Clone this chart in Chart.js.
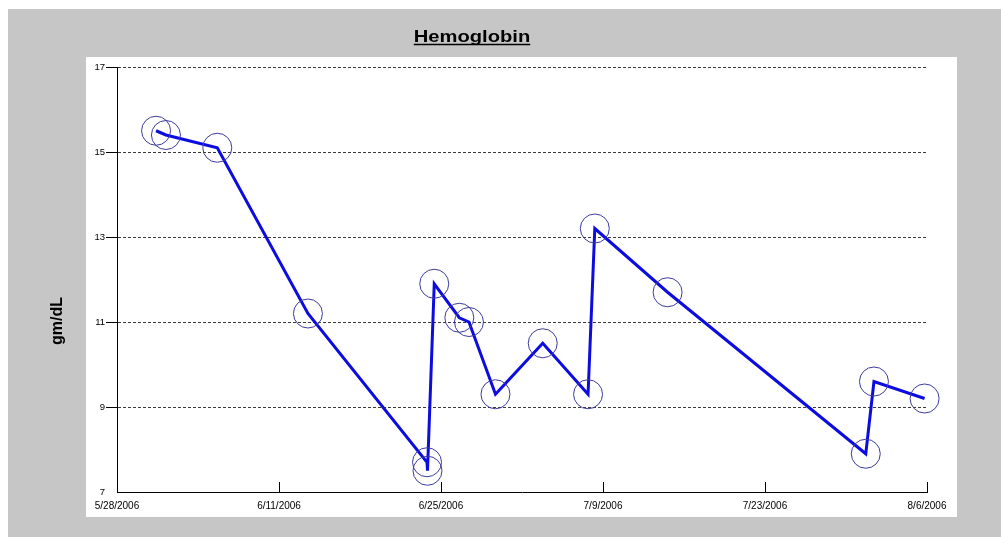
<!DOCTYPE html>
<html>
<head>
<meta charset="utf-8">
<script src="https://cdn.jsdelivr.net/npm/chart.js@4.4.0/dist/chart.umd.min.js"></script>
<style>
  html, body { margin: 0; padding: 0; background: #fff; }
</style>
</head>
<body>
<canvas id="chart" width="1001" height="537"></canvas>
<script>
const chartTitle = 'Hemoglobin';
const yAxisTitle = 'gm/dL';
const dateTicks = ['5/28/2006', '6/11/2006', '6/25/2006', '7/9/2006', '7/23/2006', '8/6/2006'];
const valueTicks = [7, 9, 11, 13, 15, 17];

// lab draws (date + hour)
const readingDates = [
    '5/31/2006 09:00', '6/1/2006 05:30', '6/5/2006 16:00', '6/13/2006 12:00',
    '6/23/2006 19:00', '6/23/2006 20:00', '6/24/2006 10:00', '6/26/2006 14:00',
    '6/27/2006 10:00', '6/29/2006 17:00', '7/3/2006 19:00', '7/7/2006 17:00',
    '7/8/2006 07:00', '7/14/2006 14:00', '7/31/2006 17:00', '8/1/2006 10:00',
    '8/5/2006 19:00',
];
const hemoglobin = [15.5, 15.4, 15.1, 11.2, 7.7, 7.5, 11.9, 11.1, 11.0, 9.3, 10.5, 9.3, 13.2, 11.7, 7.9, 9.6, 9.2];

function toTime(s) {
    const [d, t] = s.split(' ');
    const [m, day, y] = d.split('/').map(Number);
    const [hh, mm] = (t || '0:0').split(':').map(Number);
    return Date.UTC(y, m - 1, day, hh, mm);
}
const start = toTime(dateTicks[0]);
const dayOf = s => (toTime(s) - start) / 86400000;

const points = readingDates.map((d, i) => ({ x: dayOf(d), y: hemoglobin[i] }));

const backdrop = {
    id: 'backdrop',
    beforeDraw(chart) {
        const { ctx, chartArea: a } = chart;
        ctx.save();
        ctx.fillStyle = '#ffffff';
        ctx.fillRect(0, 0, chart.width, chart.height);
        ctx.fillStyle = '#c6c6c6';
        ctx.fillRect(8, 9, chart.width - 8, chart.height - 9);
        ctx.fillStyle = '#ffffff';
        ctx.fillRect(a.left - 31, a.top - 10, a.right - a.left + 61, a.bottom - a.top + 35);
        ctx.restore();
    },
    afterDraw(chart) {
        const ctx = chart.ctx;
        ctx.save();
        // underlined title
        ctx.font = 'bold 16px "Liberation Sans", Arial, sans-serif';
        ctx.fillStyle = '#000';
        ctx.textAlign = 'center';
        ctx.textBaseline = 'alphabetic';
        const w = ctx.measureText(chartTitle).width * 1.26;
        ctx.save();
        ctx.translate(472, 42);
        ctx.scale(1.26, 1);
        ctx.fillText(chartTitle, 0, 0);
        ctx.restore();
        ctx.strokeStyle = '#000';
        ctx.lineWidth = 1.5;
        ctx.beginPath();
        ctx.moveTo(472 - w / 2, 44.5);
        ctx.lineTo(472 + w / 2, 44.5);
        ctx.stroke();
        // y axis title
        ctx.translate(58, 321);
        ctx.rotate(-Math.PI / 2);
        ctx.textBaseline = 'middle';
        ctx.fillText(yAxisTitle, 0, 0);
        ctx.restore();
    },
};

new Chart(document.getElementById('chart').getContext('2d'), {
    type: 'line',
    data: {
        datasets: [{
            label: chartTitle,
            data: points,
            borderColor: '#0c0ce0',
            borderWidth: 3,
            tension: 0,
            pointRadius: 14.5,
            pointHoverRadius: 14.5,
            pointBorderColor: '#3c3c9c',
            pointBorderWidth: 1,
            pointBackgroundColor: 'rgba(0,0,0,0)',
            clip: false,
        }],
    },
    options: {
        responsive: false,
        animation: false,
        events: [],
        layout: { padding: { left: 0, top: 67, right: 74, bottom: 0 } },
        plugins: {
            legend: { display: false },
            title: { display: false },
            tooltip: { enabled: false },
        },
        scales: {
            x: {
                type: 'linear',
                min: 0,
                max: dayOf(dateTicks[dateTicks.length - 1]),
                afterBuildTicks: scale => {
                    scale.ticks = dateTicks.map(d => ({ value: dayOf(d) }));
                },
                afterFit: scale => { scale.height = 45; },
                ticks: {
                    callback: (v, i) => dateTicks[i],
                    color: '#000',
                    font: { family: '"Liberation Sans", Arial, sans-serif', size: 10 },
                    maxRotation: 0,
                    autoSkip: false,
                    padding: 18,
                },
                grid: {
                    drawOnChartArea: false,
                    tickLength: -10,
                    tickColor: '#000',
                },
                border: { color: '#000', width: 1 },
            },
            y: {
                type: 'linear',
                min: valueTicks[0],
                max: valueTicks[valueTicks.length - 1],
                afterBuildTicks: scale => {
                    scale.ticks = valueTicks.map(v => ({ value: v }));
                },
                afterFit: scale => { scale.width = 117; },
                ticks: {
                    color: '#000',
                    font: { family: '"Liberation Sans", Arial, sans-serif', size: 9.5 },
                    padding: 1,
                },
                grid: {
                    color: '#3a3a3a',
                    tickLength: 11,
                    tickColor: c => (c.tick && c.tick.value === valueTicks[0] ? 'rgba(0,0,0,0)' : '#000'),
                    tickBorderDash: [],
                },
                border: { color: '#000', width: 1, dash: [3, 2] },
            },
        },
    },
    plugins: [backdrop],
});
</script>
</body>
</html>
